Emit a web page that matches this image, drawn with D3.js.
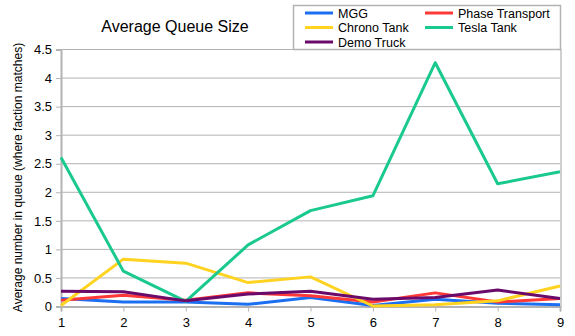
<!DOCTYPE html>
<html><head><meta charset="utf-8">
<script src="https://cdn.jsdelivr.net/npm/d3@7"></script>
<style>body{margin:0;background:#fff}svg{display:block}text{font-family:"Liberation Sans",Arial,sans-serif;fill:#000}</style>
</head><body><svg id="c" width="575" height="336"></svg>
<script>
const categories = [1,2,3,4,5,6,7,8,9];
const seriesNames = ["MGG","Phase Transport","Chrono Tank","Tesla Tank","Demo Truck"];
const seriesColors = ["#1c6ff0","#ff3838","#ffd320","#1ac98e","#6a0a6a"];
const mgg = [0.13,0.07,0.07,0.03,0.15,0.01,0.12,0.05,0.02];
const phaseTransport = [0.10,0.19,0.10,0.23,0.18,0.07,0.23,0.07,0.13];
const chronoTank = [0.01,0.82,0.75,0.41,0.51,0.00,0.02,0.09,0.35];
const teslaTank = [2.60,0.61,0.08,1.07,1.67,1.93,4.26,2.14,2.35];
const demoTruck = [0.26,0.25,0.09,0.21,0.26,0.12,0.15,0.28,0.13];
const yTicks = [0,0.5,1,1.5,2,2.5,3,3.5,4,4.5];
const yTickLabels = ["0","0.5","1","1.5","2","2.5","3","3.5","4","4.5"];
const title = "Average Queue Size";
const yTitle = "Average number in queue (where faction matches)";

const seriesData = [mgg, phaseTransport, chronoTank, teslaTank, demoTruck];
const svg = d3.select("#c");
const L = 61, R = 560, T = 49, B = 306;
const x = d3.scaleLinear().domain([1,9]).range([L,R]);
const y = d3.scaleLinear().domain([0,4.5]).range([B,T]);

// gridlines
svg.append("g").selectAll("line").data(yTicks).join("line")
  .attr("x1",L).attr("x2",R).attr("y1",d=>y(d)+0.5).attr("y2",d=>y(d)+0.5)
  .attr("stroke","#b3b3b3").attr("stroke-width",1);

// right border
svg.append("line").attr("x1",R+1).attr("x2",R+1).attr("y1",T).attr("y2",B+1)
  .attr("stroke","#d0d0d0").attr("stroke-width",2);

// y axis
const yAxis = d3.axisLeft(y).tickValues(yTicks).tickFormat((d,i)=>yTickLabels[i]).tickSize(5).tickPadding(4);
const gy = svg.append("g").attr("transform",`translate(${L},0.5)`).call(yAxis);
gy.select(".domain").attr("stroke","#b3b3b3").attr("stroke-width",2);
gy.selectAll(".tick line").attr("stroke","#b3b3b3");
gy.selectAll("text").style("font-size","13px").attr("font-family",null);

// x axis
const xAxis = d3.axisBottom(x).tickValues(categories).tickFormat(d3.format("d")).tickSize(5).tickPadding(6);
const gx = svg.append("g").attr("transform",`translate(0,${B+0.5})`).call(xAxis);
gx.select(".domain").attr("stroke","#b3b3b3").attr("stroke-width",2);
gx.selectAll(".tick line").attr("stroke","#b3b3b3");
gx.selectAll("text").style("font-size","13px");
svg.selectAll(".tick text").attr("fill","#000");

// lines
const line = d3.line().x((d,i)=>x(categories[i])).y(d=>y(d));
seriesData.forEach((s,k)=>{
  svg.append("path").datum(s).attr("d",line).attr("fill","none")
    .attr("stroke",seriesColors[k]).attr("stroke-width",3).attr("stroke-linejoin","round");
});

// title
svg.append("text").attr("x",175).attr("y",32).attr("text-anchor","middle")
  .style("font-size","16px").text(title);

// y title
svg.append("text").attr("transform",`translate(22,${(T+B)/2}) rotate(-90)`)
  .attr("text-anchor","middle").style("font-size","12px").text(yTitle);

// legend
const lg = svg.append("g");
lg.append("rect").attr("x",293.5).attr("y",5.5).attr("width",267).attr("height",44)
  .attr("fill","#fff").attr("stroke","#b3b3b3").attr("stroke-width",1.5);
const pos = [[305,13],[425,13],[305,27.5],[425,27.5],[305,42]];
seriesNames.forEach((n,k)=>{
  const [px,py] = pos[k];
  lg.append("line").attr("x1",px).attr("x2",px+28).attr("y1",py).attr("y2",py)
    .attr("stroke",seriesColors[k]).attr("stroke-width",3);
  lg.append("text").attr("x",px+33).attr("y",py+4.5).style("font-size","12.5px").text(n);
});
</script></body></html>
